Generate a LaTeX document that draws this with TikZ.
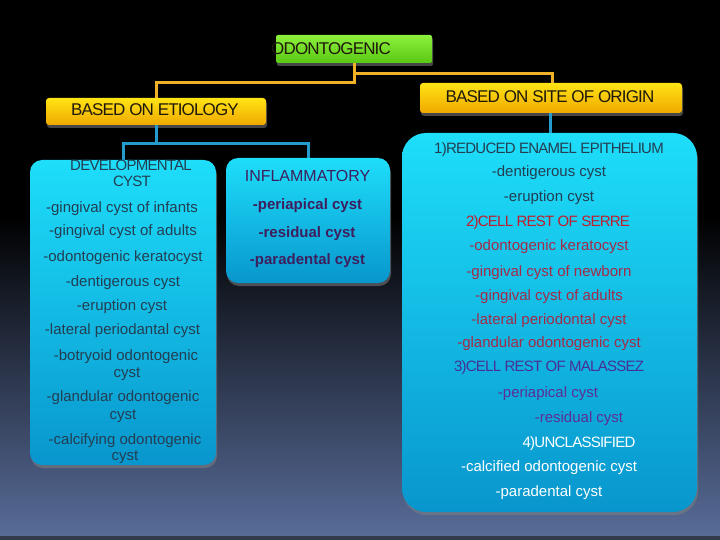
\documentclass[tikz,border=0pt]{standalone}
\usepackage{fontspec}
\setmainfont{Liberation Sans}
\newfontfamily\capsfont{Liberation Sans}[LetterSpace=-5]
\usetikzlibrary{shadows}
\definecolor{bgbot}{RGB}{88,108,152}
\definecolor{bgstrip}{RGB}{50,58,75}
\definecolor{greentop}{RGB}{140,240,60}
\definecolor{greenbot}{RGB}{90,200,20}
\definecolor{yeltop}{RGB}{255,228,20}
\definecolor{yelbot}{RGB}{240,168,0}
\definecolor{cyantop}{RGB}{30,222,250}
\definecolor{cyanbot}{RGB}{8,150,205}
\definecolor{orangeline}{RGB}{240,176,40}
\definecolor{blueline}{RGB}{35,155,205}
\definecolor{headtxt}{RGB}{30,25,10}
\definecolor{devtxt}{RGB}{35,62,82}
\definecolor{infltxt}{RGB}{62,30,92}
\definecolor{redhead}{RGB}{190,30,45}
\definecolor{redtxt}{RGB}{165,42,72}
\definecolor{purphead}{RGB}{70,48,150}
\definecolor{purptxt}{RGB}{92,46,150}
\begin{document}
\begin{tikzpicture}[x=1pt,y=-1pt,
  oline/.style={draw=orangeline, line width=3pt},
  bline/.style={draw=blueline, line width=3pt},
  boxshadow/.style={drop shadow={shadow xshift=1pt, shadow yshift=-3pt, opacity=0.55}},
  greenbox/.style={rounded corners=2pt, top color=greentop, bottom color=greenbot, inner sep=0pt, boxshadow},
  yelbox/.style={rounded corners=3pt, top color=yeltop, bottom color=yelbot, inner sep=0pt, boxshadow},
  cyanbox/.style={rounded corners=12pt, top color=cyantop, bottom color=cyanbot, inner sep=0pt, boxshadow},
  head/.style={inner sep=0pt, text=headtxt, font=\fontsize{17}{20}\selectfont\capsfont},
  ln/.style={inner sep=0pt, text height=11pt, text depth=3pt, font=\fontsize{15}{18}\selectfont},
  capln/.style={inner sep=0pt, text height=11pt, text depth=3pt, font=\fontsize{15}{18}\selectfont\capsfont},
  boldln/.style={inner sep=0pt, text height=11pt, text depth=3pt, font=\fontsize{15}{18}\selectfont\bfseries}
]
\useasboundingbox (0,0) rectangle (720,540);
% background
\fill[black] (0,0) rectangle (720,540);
\shade[top color=black, bottom color=bgbot] (0,215) rectangle (720,536);
\fill[bgstrip] (0,536) rectangle (720,540);

% boxes
\node[greenbox, minimum width=156pt, minimum height=28pt] (odo) at (354,49) {};
\node[yelbox, minimum width=262pt, minimum height=30pt] (site) at (551,98) {};
\node[yelbox, minimum width=220pt, minimum height=27pt] (eti) at (156,111.5) {};
\node[cyanbox, minimum width=186pt, minimum height=305pt] (dev) at (123,312.5) {};
\node[cyanbox, minimum width=164pt, minimum height=125pt] (infl) at (308,220.5) {};
\node[cyanbox, rounded corners=24pt, minimum width=295pt, minimum height=379pt] (right) at (549.5,322.5) {};

% connectors
\draw[oline] (odo.south) -- ++(0,19) -| (eti.north);
\draw[oline] ([yshift=-10pt]odo.south) -| ([xshift=1pt]site.north);
\draw[bline] (eti.south) -- ++(0,18) -| (dev.north);
\draw[bline] ([yshift=-18pt]eti.south) -| (infl.north);
\draw[bline] ([xshift=-1pt]site.south) -- ([xshift=-1pt]site.south |- right.north);

% headings
\node[head, anchor=west] (odot) at (271,49) {ODONTOGENIC};
\node[head] (sitet) at (550,97) {BASED ON SITE OF ORIGIN};
\node[head] (etit) at (155,110) {BASED ON ETIOLOGY};

% developmental box
\begin{scope}[text=devtxt]
\node[capln] (d1) at (131,167) {DEVELOPMENTAL};
\node[capln] (d2) at (132,183) {CYST};
\node[ln] (d3) at (122,208) {-gingival cyst of infants};
\node[ln] (d4) at (123,232) {-gingival cyst of adults};
\node[ln] (d5) at (123,257) {-odontogenic keratocyst};
\node[ln] (d6) at (123,282) {-dentigerous cyst};
\node[ln] (d7) at (122,306) {-eruption cyst};
\node[ln] (d8) at (122.5,330) {-lateral periodantal cyst};
\node[ln] (d9) at (126,356) {-botryoid odontogenic};
\node[ln] (d10) at (127,373) {cyst};
\node[ln] (d11) at (123,397) {-glandular odontogenic};
\node[ln] (d12) at (123,415) {cyst};
\node[ln] (d13) at (125,440) {-calcifying odontogenic};
\node[ln] (d14) at (125,456) {cyst};
\end{scope}

% inflammatory box
\node[ln, font=\fontsize{16}{19}\selectfont, text=infltxt] (i1) at (307.5,178) {INFLAMMATORY};
\node[boldln, text=infltxt] (i2) at (307.5,206) {-periapical cyst};
\node[boldln, text=infltxt] (i3) at (307,233) {-residual cyst};
\node[boldln, text=infltxt] (i4) at (307.5,260) {-paradental cyst};

% site of origin box
\node[capln, text=devtxt] (r1) at (549,150) {1)REDUCED ENAMEL EPITHELIUM};
\node[ln, text=devtxt] (r2) at (549,173) {-dentigerous cyst};
\node[ln, text=devtxt] (r3) at (549,198) {-eruption cyst};
\node[capln, text=redhead] (r4) at (548,222) {2)CELL REST OF SERRE};
\node[ln, text=redtxt] (r5) at (549,247) {-odontogenic keratocyst};
\node[ln, text=redtxt] (r6) at (549,272) {-gingival cyst of newborn};
\node[ln, text=redtxt] (r7) at (549,296) {-gingival cyst of adults};
\node[ln, text=redtxt] (r8) at (549,320) {-lateral periodontal cyst};
\node[ln, text=redtxt] (r9) at (549,343) {-glandular odontogenic cyst};
\node[capln, text=purphead] (r10) at (549,367) {3)CELL REST OF MALASSEZ};
\node[ln, text=purptxt] (r11) at (548,393) {-periapical cyst};
\node[ln, text=purptxt] (r12) at (579,418) {-residual cyst};
\node[capln, text=white] (r13) at (579,443) {4)UNCLASSIFIED};
\node[ln, text=white] (r14) at (549,467) {-calcified odontogenic cyst};
\node[ln, text=white] (r15) at (549,492) {-paradental cyst};
\end{tikzpicture}
\end{document}
